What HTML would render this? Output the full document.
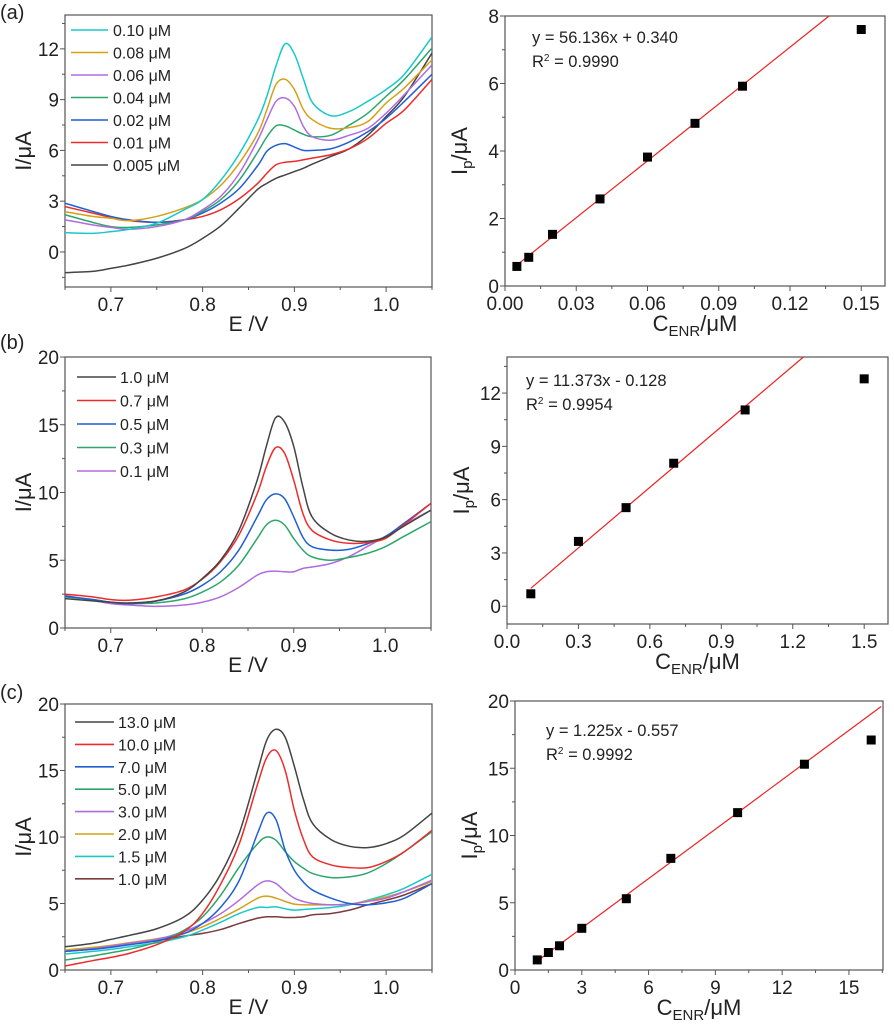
<!DOCTYPE html>
<html><head><meta charset="utf-8"><style>
html,body{margin:0;padding:0;background:#fff;}
svg{display:block;font-family:"Liberation Sans",Arial,sans-serif;}
</style></head><body>
<svg id="fig" width="894" height="1024" viewBox="0 0 894 1024"></svg>
<script>
// ---------- DATA ----------
const gridA = [0.65,0.68,0.70,0.72,0.75,0.78,0.80,0.82,0.84,0.86,0.87,0.88,0.89,0.90,0.91,0.92,0.94,0.96,0.98,1.00,1.02,1.05];
const labelsA = ["0.10 μM","0.08 μM","0.06 μM","0.04 μM","0.02 μM","0.01 μM","0.005 μM"];
const colorsA = ["#19c8c8","#d4a017","#b06be0","#2ca66b","#1f5fd6","#ee2b2b","#444444"];
const a010 = [1.14,1.1,1.2,1.34,1.7,2.5,3.1,4.25,5.8,7.8,9.2,11.0,12.3,11.7,10.2,8.8,8.05,8.3,8.9,9.6,10.5,12.7];
const a008 = [2.38,2.1,1.99,1.85,2.1,2.6,3.1,3.95,5.25,7.0,8.4,9.9,10.2,9.6,8.4,7.8,7.3,7.35,7.7,8.8,9.7,11.35];
const a006 = [1.9,1.6,1.45,1.34,1.5,1.9,2.5,3.3,4.65,6.6,7.8,8.9,9.1,8.6,7.4,6.8,6.6,6.9,7.3,8.2,9.3,11.05];
const a004 = [2.2,1.75,1.5,1.45,1.6,1.9,2.4,3.1,4.25,5.9,6.8,7.45,7.45,7.2,6.95,6.8,6.9,7.5,8.2,9.2,10.2,12.05];
const a002 = [2.88,2.4,2.1,1.9,1.75,1.9,2.3,2.9,3.75,5.1,5.95,6.3,6.4,6.2,6.0,6.0,6.1,6.5,7.1,7.9,8.9,10.5];
const a001 = [2.68,2.3,2.05,1.85,1.75,1.9,2.1,2.5,3.15,4.05,4.65,5.15,5.3,5.35,5.45,5.55,5.75,6.1,6.7,7.6,8.4,10.2];
const a0005 = [-1.22,-1.15,-0.97,-0.77,-0.37,0.2,0.8,1.55,2.6,3.7,4.05,4.35,4.55,4.75,4.95,5.2,5.65,6.1,6.9,8.0,9.2,11.75];

const labelsB = ["1.0 μM","0.7 μM","0.5 μM","0.3 μM","0.1 μM"];
const colorsB = ["#444444","#ee2b2b","#1f5fd6","#2ca66b","#b06be0"];
const b10 = [2.17,2.0,1.9,1.85,2.0,2.65,3.65,5.0,7.2,10.9,13.4,15.5,15.2,13.4,10.4,8.2,7.0,6.5,6.4,6.7,7.5,8.7];
const b07 = [2.5,2.3,2.1,2.05,2.3,2.8,3.6,4.9,6.85,9.9,11.9,13.3,12.9,10.9,8.45,7.2,6.5,6.25,6.3,6.6,7.6,9.2];
const b05 = [2.35,2.1,1.9,1.8,2.0,2.5,3.15,4.15,5.75,8.2,9.45,9.9,9.55,8.2,6.7,6.0,5.75,5.8,6.2,6.75,7.7,9.2];
const b03 = [2.3,2.1,1.9,1.8,1.85,2.15,2.65,3.4,4.65,6.6,7.6,7.95,7.6,6.6,5.75,5.25,5.0,5.2,5.5,6.0,6.75,7.85];
const b01 = [2.4,2.05,1.8,1.7,1.6,1.7,1.9,2.3,3.0,3.9,4.15,4.2,4.15,4.15,4.4,4.5,4.75,5.25,6.0,6.75,7.6,8.7];

const labelsC = ["13.0 μM","10.0 μM","7.0 μM","5.0 μM","3.0 μM","2.0 μM","1.5 μM","1.0 μM"];
const colorsC = ["#444444","#ee2b2b","#1f5fd6","#2ca66b","#b06be0","#d4a017","#19c8c8","#7a3b3b"];
const c13 = [1.75,2.0,2.3,2.6,3.1,4.0,5.25,7.25,10.3,15.0,17.3,18.1,17.5,15.3,12.8,11.0,9.8,9.3,9.2,9.5,10.15,11.8];
const c10 = [0.3,0.7,0.95,1.25,1.9,2.9,4.25,6.5,9.5,14.0,16.0,16.5,15.0,12.0,9.8,8.5,7.9,7.7,7.7,8.15,8.9,10.5];
const c7 = [1.4,1.55,1.7,1.9,2.2,2.75,3.5,4.75,6.75,10.3,11.8,11.3,9.0,7.5,6.6,6.0,5.4,5.0,4.9,5.05,5.4,6.5];
const c5 = [0.75,1.05,1.3,1.55,2.1,3.0,4.0,5.65,7.75,9.5,10.0,9.75,8.9,8.15,7.65,7.25,6.95,7.0,7.3,8.0,8.9,10.4];
const c3 = [1.4,1.6,1.8,2.0,2.3,2.9,3.5,4.25,5.25,6.4,6.7,6.5,5.9,5.4,5.15,5.0,4.9,4.95,5.15,5.4,5.9,6.75];
const c2 = [1.5,1.7,1.85,2.05,2.35,2.75,3.25,3.9,4.6,5.4,5.55,5.4,5.15,4.95,4.9,4.9,4.9,4.95,5.2,5.5,5.9,6.65];
const c15 = [1.2,1.4,1.55,1.75,2.05,2.5,3.0,3.6,4.25,4.7,4.7,4.75,4.6,4.5,4.55,4.6,4.7,4.9,5.25,5.65,6.15,7.2];
const c1 = [1.4,1.6,1.8,1.95,2.2,2.55,2.75,3.05,3.5,3.9,4.0,4.0,3.95,3.95,4.0,4.15,4.25,4.5,4.9,5.25,5.65,6.5];

const concA = [0.005,0.01,0.02,0.04,0.06,0.08,0.10,0.15];
const ipA = [0.58,0.85,1.53,2.58,3.82,4.82,5.92,7.6];
const fitA = [56.136,0.340];
const concB = [0.1,0.3,0.5,0.7,1.0,1.5];
const ipB = [0.7,3.65,5.55,8.05,11.05,12.8];
const fitB = [11.373,-0.128];
const concC = [1,1.5,2,3,5,7,10,13,16];
const ipC = [0.75,1.3,1.8,3.1,5.3,8.3,11.7,15.3,17.1];
const fitC = [1.225,-0.557];

const tickXLeft = ["0.7","0.8","0.9","1.0"];
const tickYA = ["0","3","6","9","12"];
const tickYB = ["0","5","10","15","20"];
const tickYC = ["0","5","10","15","20"];
const tickXRA = ["0.00","0.03","0.06","0.09","0.12","0.15"];
const tickYRA = ["0","2","4","6","8"];
const tickXRB = ["0.0","0.3","0.6","0.9","1.2","1.5"];
const tickYRB = ["0","3","6","9","12"];
const tickXRC = ["0","3","6","9","12","15"];
const tickYRC = ["0","5","10","15","20"];

// ---------- DRAW ----------
const NS="http://www.w3.org/2000/svg";
const svg=document.getElementById('fig');
function el(tag,attrs,parent,text){const e=document.createElementNS(NS,tag);for(const k in attrs)e.setAttribute(k,attrs[k]);if(text!==undefined)e.textContent=text;(parent||svg).appendChild(e);return e;}
function scale(d0,d1,r0,r1){return v=>r0+(v-d0)/(d1-d0)*(r1-r0);}
function smooth(pts){let d="M"+pts[0][0].toFixed(2)+","+pts[0][1].toFixed(2);for(let i=0;i<pts.length-1;i++){const p0=pts[i-1]||pts[i],p1=pts[i],p2=pts[i+1],p3=pts[i+2]||p2;const c1=[p1[0]+(p2[0]-p0[0])/6,p1[1]+(p2[1]-p0[1])/6],c2=[p2[0]-(p3[0]-p1[0])/6,p2[1]-(p3[1]-p1[1])/6];d+="C"+c1[0].toFixed(2)+","+c1[1].toFixed(2)+" "+c2[0].toFixed(2)+","+c2[1].toFixed(2)+" "+p2[0].toFixed(2)+","+p2[1].toFixed(2);}return d;}

function axes(g,box,xs,ys,xt,yt,xminor,yminor){
  const [L,T,R,B]=box;
  const f=el('rect',{x:L,y:T,width:R-L,height:B-T,fill:'none',stroke:'#555','stroke-width':1.2},g);
  
  
  xt.forEach(t=>{const x=xs(parseFloat(t));el('line',{x1:x,x2:x,y1:B,y2:B+5,stroke:'#555'},g);
    const tx=el('text',{x:x,y:B+24,'font-size':19,'text-anchor':'middle',fill:'#222'},g,t);
    
    });
  xminor.forEach(v=>{const x=xs(v);el('line',{x1:x,x2:x,y1:B,y2:B+3,stroke:'#555'},g);});
  yt.forEach(t=>{const y=ys(parseFloat(t));el('line',{x1:L-5,x2:L,y1:y,y2:y,stroke:'#555'},g);
    const ty=el('text',{x:L-6,y:y+7,'font-size':19,'text-anchor':'end',fill:'#222'},g,t);
    
    });
  yminor.forEach(v=>{const y=ys(v);el('line',{x1:L-3,x2:L,y1:y,y2:y,stroke:'#555'},g);});
}
function mids(arr){const v=arr.map(parseFloat),r=[];const st=v[1]-v[0];r.push(v[0]-st/2);for(let i=0;i<v.length;i++)r.push(v[i]+st/2);return r;}

function cvPanel(name,box,yr,yt,series,labels,colors,leg){
  const g=el('g',{},svg);
  
  
  const [L,T,R,B]=box;
  const xs=scale(0.65,1.05,L,R), ys=scale(yr[0],yr[1],B,T);
  axes(g,box,xs,ys,tickXLeft,yt,mids(tickXLeft),mids(yt).filter(v=>v>yr[0]&&v<yr[1]));
  const cl=el('clipPath',{id:name+'-clip'},g);el('rect',{x:L,y:T,width:R-L,height:B-T},cl);
  for(let s=series.length-1;s>=0;s--){
    const pts=gridA.map((x,i)=>[xs(x),ys(series[s][i])]);
    const p=el('path',{d:smooth(pts),fill:'none',stroke:colors[s],'stroke-width':1.5,'clip-path':'url(#'+name+'-clip)'},g);
    
    
  }
  labels.forEach((lb,i)=>{const y=leg.y+i*leg.dy;
    const lg=el('g',{},g);
    
    
    el('line',{x1:leg.x1,x2:leg.x2,y1:y,y2:y,stroke:colors[i],'stroke-width':1.6},lg);
    el('text',{x:leg.tx,y:y+6,'font-size':16,fill:'#222'},lg,lb);});
  const xl=el('text',{x:(L+R)/2+0,y:B+44,'font-size':21,'text-anchor':'middle',fill:'#222'},g,'E /V');
  
  
  const yl=el('text',{x:0,y:0,'font-size':22,'text-anchor':'middle',fill:'#222',transform:`translate(${L-34},${(T+B)/2}) rotate(-90)`},g,'I/μA');
  
  
}

function linPanel(name,box,xr,yr,xt,yt,cx,cy,fit,eq,r2,eqx,eqy){
  const g=el('g',{},svg);
  
  
  const [L,T,R,B]=box;
  const xs=scale(xr[0],xr[1],L,R), ys=scale(yr[0],yr[1],B,T);
  axes(g,box,xs,ys,xt,yt,mids(xt).filter(v=>v>xr[0]&&v<xr[1]),mids(yt).filter(v=>v>yr[0]&&v<yr[1]));
  let x0=cx[0],x1=Math.min(xr[1]-(xr[1]-xr[0])*0.005,(yr[1]-fit[1])/fit[0]);
  const fl=el('line',{x1:xs(x0),y1:ys(fit[0]*x0+fit[1]),x2:xs(x1),y2:ys(fit[0]*x1+fit[1]),stroke:'#ee2222','stroke-width':1.2},g);
  
  
  cx.forEach((c,i)=>{const m=el('rect',{x:xs(c)-4.5,y:ys(cy[i])-4.5,width:9,height:9,fill:'#000'},g);
    
    });
  const e1=el('text',{x:eqx,y:eqy,'font-size':16.5,fill:'#222'},g,eq);
  
  
  const e2=el('text',{x:eqx,y:eqy+24,'font-size':16.5,fill:'#222'},g);
  
  
  el('tspan',{},e2,'R');el('tspan',{dy:-6,'font-size':10},e2,'2');el('tspan',{dy:6},e2,' = '+r2);
  const xl=el('text',{x:(L+R)/2,y:B+45,'font-size':22,'text-anchor':'middle',fill:'#222'},g);
  
  
  el('tspan',{},xl,'C');el('tspan',{dy:5,'font-size':15},xl,'ENR');el('tspan',{dy:-5},xl,'/μM');
  const yl=el('text',{x:0,y:0,'font-size':22,'text-anchor':'middle',fill:'#222',transform:`translate(${L-38},${(T+B)/2}) rotate(-90)`},g);
  
  
  el('tspan',{},yl,'I');el('tspan',{dy:5,'font-size':15},yl,'p');el('tspan',{dy:-5},yl,'/μA');
}

cvPanel('panel-a-cv',[65,15,432,287],[-2.07,14],tickYA,[a010,a008,a006,a004,a002,a001,a0005],labelsA,colorsA,{x1:71,x2:108,tx:113,y:30,dy:22.5});
cvPanel('panel-b-cv',[65,357,431,628],[0,20],tickYB,[b10,b07,b05,b03,b01],labelsB,colorsB,{x1:77,x2:116,tx:120,y:377,dy:23.5});
cvPanel('panel-c-cv',[65,704,432,970],[0,20],tickYC,[c13,c10,c7,c5,c3,c2,c15,c1],labelsC,colorsC,{x1:75,x2:114,tx:118,y:722,dy:22.4});
linPanel('panel-a-fit',[505,16,885,286],[0,0.16],[0,8],tickXRA,tickYRA,concA,ipA,fitA,'y = 56.136x + 0.340','0.9990',532,43);
linPanel('panel-b-fit',[507,357,888,624],[0,1.6],[-1,14.03],tickXRB,tickYRB,concB,ipB,fitB,'y = 11.373x - 0.128','0.9954',526,386);
linPanel('panel-c-fit',[515,701,883,970],[0,16.53],[0,20],tickXRC,tickYRC,concC,ipC,fitC,'y = 1.225x - 0.557','0.9992',546,736);

[['(a)',13],['(b)',343],['(c)',693]].forEach(p=>{const t=el('text',{x:0,y:p[1]+6,'font-size':20,fill:'#222'},svg,p[0]);
  
  });
</script>
</body></html>
